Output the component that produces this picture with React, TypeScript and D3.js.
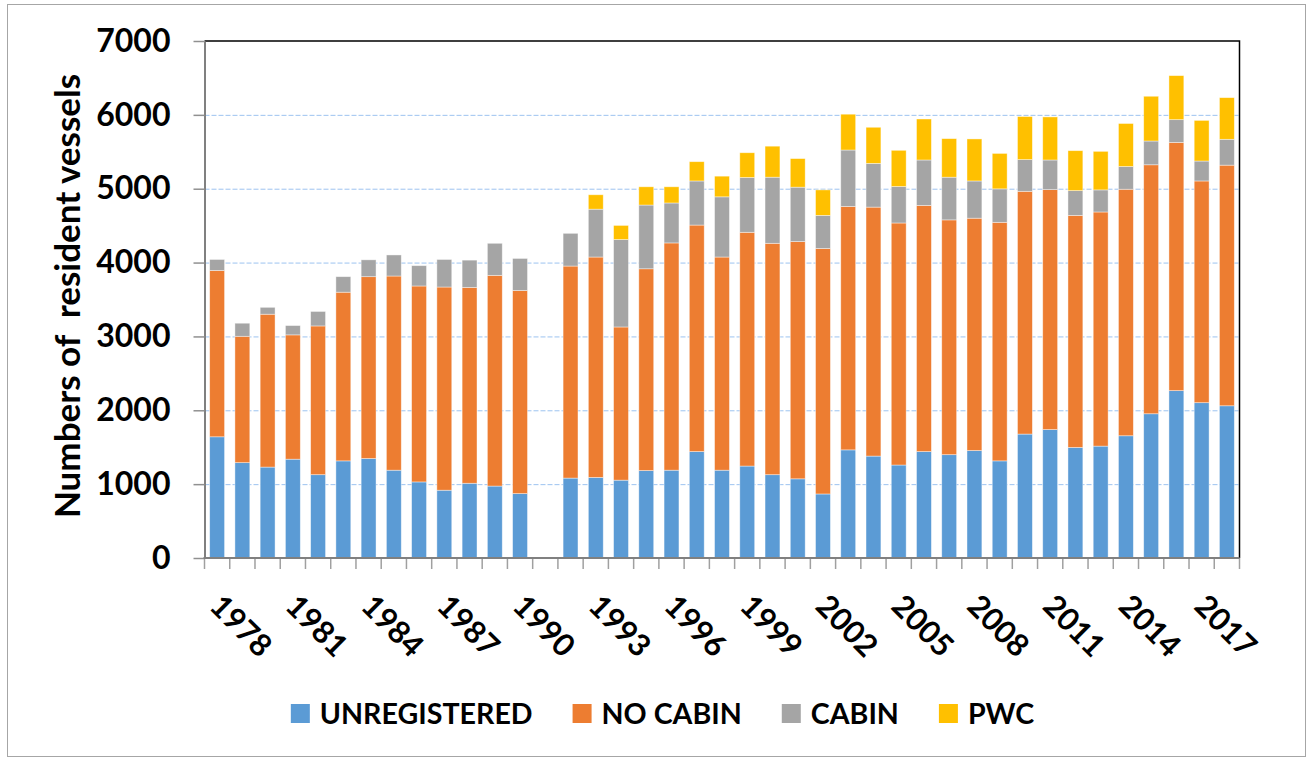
import React, { useEffect, useRef } from 'react';
import * as d3 from 'd3';

// one entry per year, 1991 has no survey
const years = [
  '1978', '1979', '1980', '1981', '1982', '1983', '1984', '1985', '1986', '1987',
  '1988', '1989', '1990', '1991', '1992', '1993', '1994', '1995', '1996', '1997',
  '1998', '1999', '2000', '2001', '2002', '2003', '2004', '2005', '2006', '2007',
  '2008', '2009', '2010', '2011', '2012', '2013', '2014', '2015', '2016', '2017', '2018',
];
const unregistered = [
  1641, 1291, 1231, 1338, 1128, 1315, 1347, 1189, 1030, 918,
  1012, 974, 872, null, 1082, 1091, 1054, 1184, 1189, 1441,
  1189, 1245, 1128, 1072, 867, 1464, 1380, 1259, 1441, 1399,
  1455, 1315, 1678, 1739, 1497, 1515, 1655, 1953, 2266, 2103, 2061,
];
const noCabin = [
  2252, 1711, 2070, 1683, 2014, 2284, 2462, 2629, 2653, 2751,
  2652, 2853, 2750, null, 2871, 2984, 2074, 2732, 3077, 3067,
  2886, 3165, 3133, 3212, 3324, 3296, 3371, 3277, 3333, 3179,
  3146, 3230, 3287, 3249, 3142, 3170, 3338, 3371, 3361, 3002, 3258,
];
const cabin = [
  149, 177, 93, 126, 196, 210, 228, 285, 275, 373,
  369, 434, 434, null, 443, 648, 1184, 863, 541, 597,
  815, 742, 895, 737, 448, 764, 592, 494, 615, 578,
  504, 453, 429, 401, 335, 299, 308, 322, 308, 270, 350,
];
const pwc = [
  0, 0, 0, 0, 0, 0, 0, 0, 0, 0,
  0, 0, 0, null, 0, 195, 191, 247, 219, 261,
  280, 335, 420, 387, 345, 485, 489, 490, 555, 522,
  569, 480, 583, 583, 541, 522, 582, 606, 596, 550, 564,
];
const seriesNames = ['UNREGISTERED', 'NO CABIN', 'CABIN', 'PWC'];
const seriesColors = ['#5B9BD5', '#ED7D31', '#A5A5A5', '#FFC000'];
const yTicks = [0, 1000, 2000, 3000, 4000, 5000, 6000, 7000];
const xTickLabels = [
  '1978', '1981', '1984', '1987', '1990', '1993', '1996',
  '1999', '2002', '2005', '2008', '2011', '2014', '2017',
];
const yTitle = 'Numbers of  resident vessels';

const W = 1307, H = 759;
const plot = { left: 204.5, right: 1239.5, top: 41, bottom: 558 };
const font = 'Lato, "Open Sans", sans-serif';

export default function App() {
  const ref = useRef<SVGSVGElement>(null);

  useEffect(() => {
    document.body.style.margin = '0';
    const svg = d3.select(ref.current);
    svg.selectAll('*').remove();
    draw(svg);
  }, []);

  return <svg ref={ref} width={W} height={H} style={{ display: 'block' }} />;
}

function draw(svg: any) {
  svg.append('rect')
    .attr('x', 7.5).attr('y', 4.5)
    .attr('width', 1298).attr('height', 752)
    .attr('fill', '#fff')
    .attr('stroke', '#a6a6a6');

  const x = d3.scaleBand()
    .domain(years)
    .range([plot.left, plot.right])
    .paddingInner(0.41)
    .paddingOuter(0.205);

  const y = d3.scaleLinear()
    .domain([0, 7000])
    .range([plot.bottom, plot.top]);

  // gridlines
  svg.append('g')
    .selectAll('line')
    .data(yTicks.filter(t => t > 0 && t < 7000))
    .join('line')
    .attr('x1', plot.left).attr('x2', plot.right)
    .attr('y1', d => y(d) + 0.5).attr('y2', d => y(d) + 0.5)
    .attr('stroke', '#9dc3f0')
    .attr('stroke-width', 1)
    .attr('stroke-dasharray', '5,2');

  const keys = ['u', 'n', 'c', 'p'];
  const rows = years.map((yr, i) => ({
    year: yr,
    u: unregistered[i] ?? 0,
    n: noCabin[i] ?? 0,
    c: cabin[i] ?? 0,
    p: pwc[i] ?? 0,
  }));
  const stacked = d3.stack<any>().keys(keys)(rows);

  svg.append('g')
    .selectAll('g')
    .data(stacked)
    .join('g')
    .attr('fill', (d, i) => seriesColors[i])
    .selectAll('rect')
    .data(d => d.filter(s => s[1] - s[0] > 0))
    .join('rect')
    .attr('x', d => x(d.data.year))
    .attr('width', x.bandwidth())
    .attr('y', d => y(d[1]))
    .attr('height', d => y(d[0]) - y(d[1]))
    .attr('stroke', '#fff')
    .attr('stroke-opacity', 0.55)
    .attr('stroke-width', 0.75);

  // plot frame (top and right)
  svg.append('path')
    .attr('d', `M${plot.left},${plot.top}H${plot.right}V${plot.bottom}`)
    .attr('fill', 'none')
    .attr('stroke', '#000')
    .attr('stroke-width', 1.5);

  // y axis
  const yAxis = svg.append('g')
    .attr('transform', `translate(${plot.left},0)`)
    .call(d3.axisLeft(y).tickValues(yTicks).tickFormat(d3.format('d'))
      .tickSize(11).tickPadding(23).tickSizeOuter(0));
  yAxis.select('.domain').attr('stroke', '#808080').attr('stroke-width', 2);
  yAxis.selectAll('.tick line').attr('stroke', '#909090').attr('stroke-width', 1.5);
  yAxis.selectAll('.tick text')
    .attr('fill', '#000')
    .style('font-family', font)
    .style('font-weight', 'bold')
    .style('font-size', '32px');

  // x axis: ticks between categories
  const half = (x.step() - x.bandwidth()) / 2;
  const bounds = years.map(yr => x(yr) - half).concat([x(years[years.length - 1]) + x.bandwidth() + half]);
  svg.append('g')
    .selectAll('line')
    .data(bounds)
    .join('line')
    .attr('x1', d => d).attr('x2', d => d)
    .attr('y1', plot.bottom).attr('y2', plot.bottom + 11)
    .attr('stroke', '#a0a0a0')
    .attr('stroke-width', 1.5);
  svg.append('line')
    .attr('x1', plot.left - 1).attr('x2', plot.right)
    .attr('y1', plot.bottom).attr('y2', plot.bottom)
    .attr('stroke', '#808080')
    .attr('stroke-width', 2);

  svg.append('g')
    .selectAll('text')
    .data(xTickLabels)
    .join('text')
    .attr('transform', d => `translate(${x(d) + x.bandwidth() / 2 - 9},${plot.bottom + 50}) rotate(45)`)
    .attr('fill', '#000')
    .style('font-family', font)
    .style('font-weight', 'bold')
    .style('font-size', '31px')
    .text(d => d);

  // y title (keeps the double space)
  svg.append('text')
    .attr('transform', `translate(80,${(70 + 522) / 2}) rotate(-90)`)
    .attr('text-anchor', 'middle')
    .attr('fill', '#000')
    .style('white-space', 'pre')
    .style('font-family', font)
    .style('font-weight', 'bold')
    .style('font-size', '35px')
    .text(yTitle);

  // legend, centred under the plot
  const legend = svg.append('g');
  const items = legend.selectAll('g')
    .data(seriesNames)
    .join('g');
  items.append('rect')
    .attr('width', 19).attr('height', 19)
    .attr('y', -19)
    .attr('fill', (d, i) => seriesColors[i]);
  items.append('text')
    .attr('x', 29)
    .attr('y', 1)
    .attr('fill', '#000')
    .style('font-family', font)
    .style('font-weight', 'bold')
    .style('font-size', '28.6px')
    .text(d => d);
  let cursor = 0;
  items.each(function (this: SVGGElement) {
    const g = d3.select(this);
    const w = 29 + (g.select('text').node() as SVGTextElement).getComputedTextLength();
    g.attr('transform', `translate(${cursor},0)`);
    cursor += w + 40;
  });
  const total = cursor - 40;
  legend.attr('transform', `translate(${662.5 - total / 2},723)`);
}
